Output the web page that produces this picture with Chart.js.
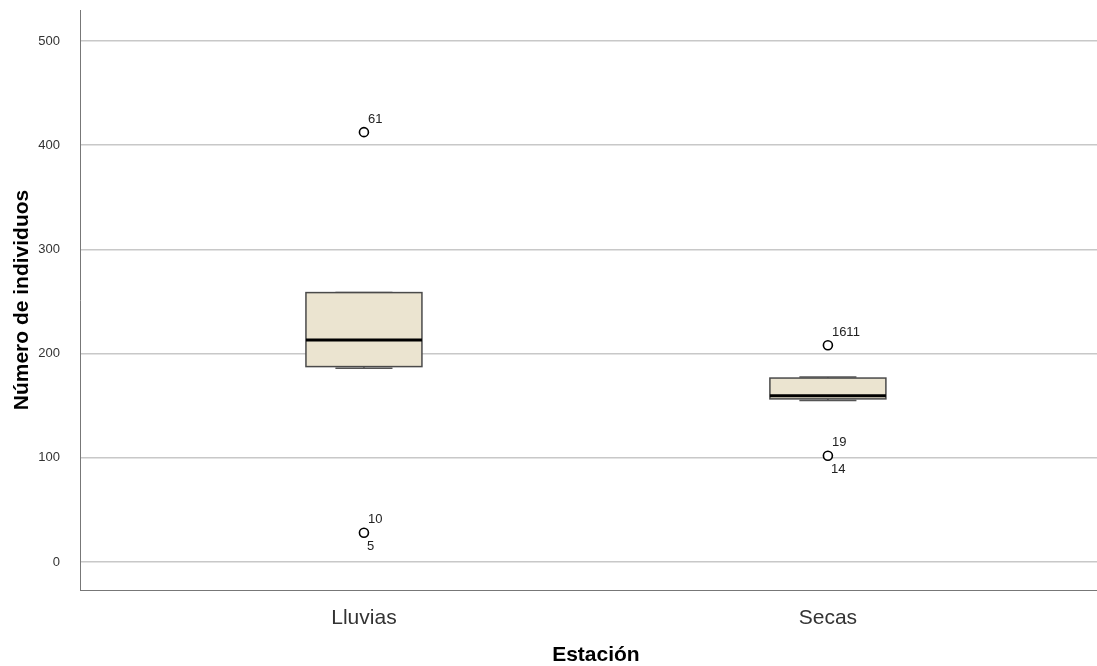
<!DOCTYPE html>
<html>
<head>
<meta charset="utf-8">
<script src="https://cdn.jsdelivr.net/npm/chart.js@4/dist/chart.umd.min.js"></script>
<style>
  html, body { margin: 0; padding: 0; background: #fff; }
  #wrap { width: 1097px; height: 666px; position: relative; }
</style>
</head>
<body>
<div id="wrap"><canvas id="c"></canvas></div>
<script>
// Box-plot summary per season
const categories = ['Lluvias', 'Secas'];
const lowerWhisker = [186, 155];
const q1 = [187.5, 156.5];
const median = [213, 159.5];
const q3 = [258.5, 176.5];
const upperWhisker = [258.5, 177.5];

// Outliers: value, case ids written above and below the circle
const outlierGroup = [0, 0, 1, 1];
const outlierValue = [412.5, 28, 208, 102];
const outlierIdAbove = ['61', '10', '1611', '19'];
const outlierIdBelow = ['', '5', '', '14'];

const yTicks = [0, 100, 200, 300, 400, 500];
const xTitle = 'Estación';
const yTitle = 'Número de individuos';

const FONT = '"Liberation Sans", Arial, sans-serif';
const BOX_W = 0.25;   // box width in x-scale units
const CAP_W = 0.123;  // whisker cap width in x-scale units

const boxPlugin = {
  id: 'boxes',
  beforeDatasetsDraw(chart) {
    const { ctx, scales: { x, y } } = chart;
    ctx.save();
    categories.forEach((c, i) => {
      const xl = x.getPixelForValue(i - BOX_W / 2);
      const xr = x.getPixelForValue(i + BOX_W / 2);
      const cl = x.getPixelForValue(i - CAP_W / 2);
      const cr = x.getPixelForValue(i + CAP_W / 2);
      const xc = x.getPixelForValue(i);
      const yq1 = y.getPixelForValue(q1[i]);
      const yq3 = y.getPixelForValue(q3[i]);
      const ylo = y.getPixelForValue(lowerWhisker[i]);
      const yhi = y.getPixelForValue(upperWhisker[i]);
      const ym = y.getPixelForValue(median[i]);

      // whiskers
      ctx.strokeStyle = '#555';
      ctx.lineWidth = 1.5;
      ctx.beginPath();
      ctx.moveTo(xc, yq3); ctx.lineTo(xc, yhi);
      ctx.moveTo(xc, yq1); ctx.lineTo(xc, ylo);
      ctx.moveTo(cl, yhi); ctx.lineTo(cr, yhi);
      ctx.moveTo(cl, ylo); ctx.lineTo(cr, ylo);
      ctx.stroke();

      // box
      ctx.fillStyle = '#ebe4d0';
      ctx.fillRect(xl, yq3, xr - xl, yq1 - yq3);
      ctx.strokeStyle = '#4a4a4a';
      ctx.lineWidth = 1.5;
      ctx.strokeRect(xl, yq3, xr - xl, yq1 - yq3);

      // median
      ctx.strokeStyle = '#000';
      ctx.lineWidth = 3;
      ctx.beginPath();
      ctx.moveTo(xl, ym); ctx.lineTo(xr, ym);
      ctx.stroke();
    });
    ctx.restore();
  },
  afterDatasetsDraw(chart) {
    const { ctx, scales: { x, y } } = chart;
    ctx.save();
    ctx.font = '13px ' + FONT;
    ctx.fillStyle = '#222';
    ctx.textBaseline = 'middle';
    ctx.textAlign = 'left';
    outlierValue.forEach((v, k) => {
      const px = x.getPixelForValue(outlierGroup[k]);
      const py = y.getPixelForValue(v);
      if (outlierIdAbove[k]) ctx.fillText(outlierIdAbove[k], px + 4, py - 13);
      if (outlierIdBelow[k]) ctx.fillText(outlierIdBelow[k], px + 3, py + 14);
    });

    // x-axis title, centred between the two groups
    ctx.font = 'bold 21px ' + FONT;
    ctx.fillStyle = '#000';
    ctx.textAlign = 'center';
    ctx.fillText(xTitle, x.getPixelForValue(0.5), 655);
    ctx.restore();
  }
};

function noPad(s) {
  s.paddingTop = 0; s.paddingBottom = 0; s.paddingLeft = 0; s.paddingRight = 0;
}

new Chart(document.getElementById('c'), {
  type: 'scatter',
  data: {
    datasets: [{
      data: outlierValue.map((v, k) => ({ x: outlierGroup[k], y: v })),
      pointRadius: 4.5,
      pointBorderWidth: 1.6,
      pointBackgroundColor: '#fff',
      pointBorderColor: '#000'
    }]
  },
  options: {
    responsive: true,
    maintainAspectRatio: false,
    animation: false,
    layout: { autoPadding: false, padding: { top: 10, right: 0, left: 0, bottom: 0 } },
    plugins: { legend: { display: false }, tooltip: { enabled: false } },
    scales: {
      x: {
        type: 'linear',
        min: -0.612,
        max: 1.58,
        grid: { display: false },
        border: { display: true, color: '#777', width: 1 },
        afterBuildTicks(s) { s.ticks = categories.map((c, i) => ({ value: i })); },
        afterFit(s) { s.height = 76; noPad(s); },
        ticks: {
          padding: 8,
          color: '#333',
          font: { family: FONT, size: 21 },
          callback: (v) => categories[v]
        }
      },
      y: {
        min: -26.9,
        max: 529.7,
        afterBuildTicks(s) { s.ticks = yTicks.map(v => ({ value: v })); },
        afterFit(s) { s.width = 80; noPad(s); },
        grid: { color: '#c8c8c8', lineWidth: 1.5, drawTicks: false },
        border: { display: true, color: '#777', width: 1 },
        ticks: {
          padding: 20,
          color: '#333',
          font: { family: FONT, size: 13 }
        },
        title: {
          display: true,
          text: yTitle,
          color: '#000',
          font: { family: FONT, size: 21, weight: 'bold' },
          padding: { top: 10, bottom: 0 }
        }
      }
    }
  },
  plugins: [boxPlugin]
});
</script>
</body>
</html>
